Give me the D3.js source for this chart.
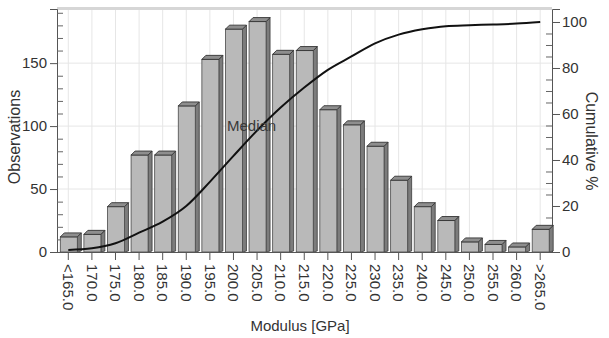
<!DOCTYPE html>
<html>
<head>
<meta charset="utf-8">
<script src="https://cdn.jsdelivr.net/npm/d3@7"></script>
<style>
  html, body { margin: 0; padding: 0; background: #fff; }
  svg { display: block; font-family: "Liberation Sans", Arial, sans-serif; }
</style>
</head>
<body>
<svg id="chart" width="609" height="338"></svg>
<script>
const categories = ["<165.0","170.0","175.0","180.0","185.0","190.0","195.0","200.0","205.0","210.0","215.0","220.0","225.0","230.0","235.0","240.0","245.0","250.0","255.0","260.0",">265.0"];
const observations = [12,14,36,77,77,116,153,177,183,157,160,113,101,84,57,36,25,8,6,4,18];
const cumulative = [0.9,1.6,3.8,8.4,13.2,20,30.5,41.8,52.8,62.8,71.5,79.2,85,90.7,94.5,96.8,98.2,98.6,98.9,99.3,100];
const leftTicks = [0,50,100,150];
const rightTicks = [0,20,40,60,80,100];
const xTitle = "Modulus [GPa]";
const yTitle = "Observations";
const y2Title = "Cumulative %";
const medianLabel = "Median";

const svg = d3.select("#chart");
const L = 57, R = 552, T = 9, B = 252;
const textCol = "#333";

const x = d3.scaleBand().domain(categories).range([L - 0.5, R]).padding(0);
const y = d3.scaleLinear().domain([0, 193]).range([B, T]);
const y2 = d3.scaleLinear().domain([0, 105.65]).range([B, T]);
const cx = d => x(d) + x.bandwidth() / 2;

// grid
const g = svg.append("g");
g.selectAll("line.vg").data(categories).join("line")
  .attr("x1", d => cx(d)).attr("x2", d => cx(d)).attr("y1", T).attr("y2", B)
  .attr("stroke", "#e6e6e6").attr("stroke-width", 1);
g.selectAll("line.hg").data(leftTicks.filter(t => t > 0)).join("line")
  .attr("x1", L).attr("x2", R).attr("y1", d => y(d)).attr("y2", d => y(d))
  .attr("stroke", "#e6e6e6").attr("stroke-width", 1);
// top border
svg.append("line").attr("x1", L).attr("x2", R).attr("y1", T - 0.5).attr("y2", T - 0.5)
  .attr("stroke", "#d6d6d6").attr("stroke-width", 3);

// left axis
const axL = svg.append("g").attr("transform", `translate(${L},0)`)
  .call(d3.axisLeft(y).tickValues(leftTicks).tickSize(7).tickPadding(3));
axL.select(".domain").attr("stroke", "#555");
axL.selectAll(".tick line").attr("stroke", "#555");
axL.selectAll("text").attr("font-size", 15).attr("fill", textCol).attr("font-family", "Liberation Sans, Arial, sans-serif");
svg.append("g").attr("transform", `translate(${L},0)`)
  .call(d3.axisRight(y).tickValues(d3.range(10, 193, 10).filter(v => v % 50 !== 0)).tickSize(6).tickFormat(""))
  .call(a => { a.select(".domain").remove(); a.selectAll("line").attr("stroke", "#666"); });

// right axis
const axR = svg.append("g").attr("transform", `translate(${R},0)`)
  .call(d3.axisRight(y2).tickValues(rightTicks).tickSize(8).tickPadding(2));
axR.select(".domain").attr("stroke", "#555");
axR.selectAll(".tick line").attr("stroke", "#555");
axR.selectAll("text").attr("font-size", 15).attr("fill", textCol).attr("font-family", "Liberation Sans, Arial, sans-serif");
svg.append("g").attr("transform", `translate(${R},0)`)
  .call(d3.axisLeft(y2).tickValues(d3.range(5, 105, 5).filter(v => v % 20 !== 0)).tickSize(6).tickFormat(""))
  .call(a => { a.select(".domain").remove(); a.selectAll("line").attr("stroke", "#666"); });

// bars (3D)
const bw = 17, dep = 4;
const bars = svg.append("g").selectAll("g").data(categories.map((c, i) => ({c, v: observations[i]}))).join("g");
bars.append("polygon")
  .attr("points", d => { const x0 = cx(d.c) - bw/2 + 0.5, y0 = y(d.v);
    return [[x0 + bw, y0], [x0 + bw + dep, y0 - dep], [x0 + bw + dep, B - 1], [x0 + bw, B]].join(" "); })
  .attr("fill", "#7c7c7c").attr("stroke", "#3a3a3a").attr("stroke-width", 0.8);
bars.append("rect")
  .attr("x", d => cx(d.c) - bw/2 + 0.5).attr("y", d => y(d.v))
  .attr("width", bw).attr("height", d => B - y(d.v))
  .attr("fill", "#b9b9b9").attr("stroke", "#4a4a4a").attr("stroke-width", 0.8);
bars.append("polygon")
  .attr("points", d => { const x0 = cx(d.c) - bw/2 + 0.5, y0 = y(d.v);
    return [[x0, y0], [x0 + dep, y0 - dep], [x0 + bw + dep, y0 - dep], [x0 + bw, y0]].join(" "); })
  .attr("fill", "#8e8e8e").attr("stroke", "#333").attr("stroke-width", 0.9);

// baseline + bottom ticks
svg.append("line").attr("x1", L - 7).attr("x2", R + 8).attr("y1", B + 0.5).attr("y2", B + 0.5)
  .attr("stroke", "#555").attr("stroke-width", 1.2);
const axB = svg.append("g").attr("transform", `translate(0,${B})`)
  .call(d3.axisBottom(x).tickSize(8).tickFormat(""));
axB.select(".domain").remove();
axB.selectAll(".tick line").attr("stroke", "#555");
svg.append("g").selectAll("text").data(categories).join("text")
  .attr("transform", d => `translate(${cx(d)},${B + 12}) rotate(90)`)
  .attr("dy", "0.35em").attr("text-anchor", "start")
  .attr("font-size", 15).attr("fill", textCol).text(d => d);

// cumulative line
const line = d3.line().x((d, i) => cx(categories[i])).y(d => y2(d)).curve(d3.curveMonotoneX);
svg.append("path").datum(cumulative).attr("d", line)
  .attr("fill", "none").attr("stroke", "#111").attr("stroke-width", 2);

// median label
svg.append("text").attr("x", 227).attr("y", 131).attr("font-size", 15)
  .attr("fill", "#3a3a3a").text(medianLabel);

// titles
svg.append("text").attr("transform", `translate(14,137) rotate(-90)`)
  .attr("text-anchor", "middle").attr("dy", "0.35em").attr("font-size", 16).attr("fill", textCol).text(yTitle);
svg.append("text").attr("transform", `translate(592,141) rotate(90)`)
  .attr("text-anchor", "middle").attr("dy", "0.35em").attr("font-size", 16).attr("fill", textCol).text(y2Title);
svg.append("text").attr("x", 300).attr("y", 331)
  .attr("text-anchor", "middle").attr("font-size", 15).attr("fill", textCol).text(xTitle);
</script>
</body>
</html>
